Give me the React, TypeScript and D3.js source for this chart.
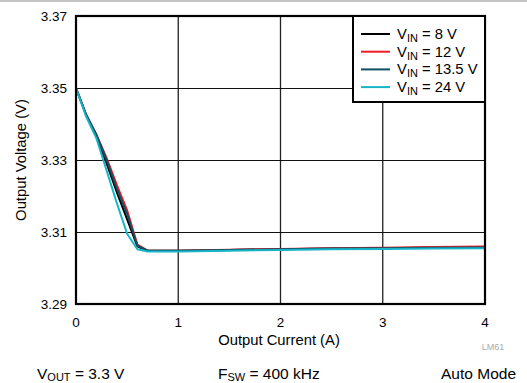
import React from "react";
import * as d3 from "d3";

const currents = [0, 0.1, 0.2, 0.3, 0.4, 0.5, 0.6, 0.7, 1.0, 1.5, 2.0, 2.5, 3.0, 3.5, 4.0];
const vin8 = [3.35, 3.3425, 3.3365, 3.329, 3.321, 3.3135, 3.306, 3.3048, 3.3048, 3.305, 3.3052, 3.3054, 3.3055, 3.3057, 3.3058];
const vin12 = [3.35, 3.3425, 3.337, 3.3305, 3.323, 3.316, 3.3065, 3.3048, 3.3048, 3.3051, 3.3053, 3.3055, 3.3056, 3.3058, 3.306];
const vin135 = [3.35, 3.3425, 3.337, 3.33, 3.322, 3.315, 3.3062, 3.3048, 3.3048, 3.305, 3.3052, 3.3054, 3.3055, 3.3056, 3.3057];
const vin24 = [3.35, 3.342, 3.336, 3.327, 3.318, 3.3095, 3.3052, 3.3046, 3.3046, 3.3048, 3.305, 3.3052, 3.3053, 3.3054, 3.3055];

const seriesNames = ["8 V", "12 V", "13.5 V", "24 V"];
const seriesColors = ["#000000", "#ee1c25", "#0d4f63", "#16b6c8"];
const seriesValues = [vin8, vin12, vin135, vin24];

const xTicks = [0, 1, 2, 3, 4];
const yTicks = [3.29, 3.31, 3.33, 3.35, 3.37];

const FONT = "'Liberation Sans', Arial, Helvetica, sans-serif";

export default function App() {
  const W = 527, H = 383;
  const x = d3.scaleLinear().domain([0, 4]).range([76, 485]);
  const y = d3.scaleLinear().domain([3.29, 3.37]).range([304, 16]);
  const line = d3.line<[number, number]>().x(d => x(d[0])).y(d => y(d[1]));

  const legendX = 353, legendY = 16, legendW = 132, legendH = 86;
  const rowY = (i: number) => 34 + i * 17.7;

  return (
    <svg width={W} height={H} style={{ position: "absolute", left: 0, top: 0 }} fontFamily={FONT}>
      <rect width={W} height={H} fill="#fff" />
      <line x1={0} x2={W} y1={1} y2={1} stroke="#c4c4c4" strokeWidth={2} />
      {/* grid */}
      {xTicks.slice(1, -1).map(t => (
        <line key={"gx" + t} x1={x(t)} x2={x(t)} y1={y(3.37)} y2={y(3.29)} stroke="#222" strokeWidth={1.3} />
      ))}
      {yTicks.slice(1, -1).map(t => (
        <line key={"gy" + t} x1={x(0)} x2={x(4)} y1={Math.round(y(t)) + 0.5} y2={Math.round(y(t)) + 0.5} stroke="#111" strokeWidth={1.2} />
      ))}
      {/* series */}
      {seriesValues.map((vals, i) => (
        <path key={i} d={line(currents.map((c, j) => [c, vals[j]]) as [number, number][]) || ""} fill="none" stroke={seriesColors[i]} strokeWidth={2} strokeLinejoin="round" />
      ))}
      {/* frame */}
      <rect x={x(0)} y={y(3.37)} width={x(4) - x(0)} height={y(3.29) - y(3.37)} fill="none" stroke="#000" strokeWidth={2.2} />
      {/* legend */}
      <rect x={legendX} y={legendY} width={legendW} height={legendH} fill="#fff" stroke="#000" strokeWidth={2} />
      {seriesNames.map((n, i) => (
        <g key={n}>
          <line x1={361} x2={390} y1={rowY(i)} y2={rowY(i)} stroke={seriesColors[i]} strokeWidth={2} />
          <text x={397} y={rowY(i) + 5} fontSize={14.8} fill="#000">
            V<tspan fontSize={11} dy={3}>IN</tspan><tspan dy={-3}>{" = " + n}</tspan>
          </text>
        </g>
      ))}
      {/* y ticks */}
      {yTicks.map(t => (
        <text key={"yt" + t} x={67} y={y(t) + 5} textAnchor="end" fontSize={13.5} fill="#000">{t.toFixed(2)}</text>
      ))}
      {xTicks.map(t => (
        <text key={"xt" + t} x={x(t)} y={327} textAnchor="middle" fontSize={13.5} fill="#000">{t}</text>
      ))}
      <text x={279} y={345} textAnchor="middle" fontSize={14.8} fill="#000">Output Current (A)</text>
      <text transform={`translate(26,160) rotate(-90)`} textAnchor="middle" fontSize={14.8} fill="#000">Output Voltage (V)</text>
      <text x={493} y={350} textAnchor="middle" fontSize={9} fill="#aaa">LM61</text>
      <text x={37} y={378.5} fontSize={15.5} fill="#000">
        V<tspan fontSize={11} dy={2.5}>OUT</tspan><tspan dy={-2.5}> = 3.3 V</tspan>
      </text>
      <text x={218} y={378.5} fontSize={15.5} fill="#000">
        F<tspan fontSize={11} dy={2.5}>SW</tspan><tspan dy={-2.5}> = 400 kHz</tspan>
      </text>
      <text x={516} y={378.5} textAnchor="end" fontSize={15.5} fill="#000">Auto Mode</text>
    </svg>
  );
}
